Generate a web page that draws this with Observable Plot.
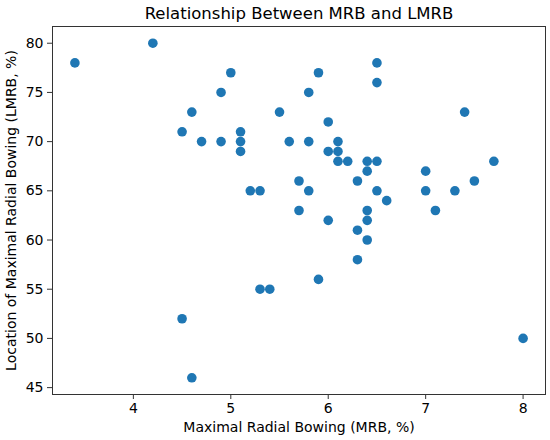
<!DOCTYPE html>
<html>
<head>
<meta charset="utf-8">
<script src="https://cdn.jsdelivr.net/npm/d3@7"></script>
<script src="https://cdn.jsdelivr.net/npm/@observablehq/plot@0.6"></script>
<style>
  html, body { margin: 0; padding: 0; background: #fff; }
  #chart { width: 550px; height: 440px; }
</style>
</head>
<body>
<div id="chart"></div>
<script>
const title = "Relationship Between MRB and LMRB";
const xLabel = "Maximal Radial Bowing (MRB, %)";
const yLabel = "Location of Maximal Radial Bowing (LMRB, %)";

const mrb = [3.4, 4.2, 4.5, 4.6, 4.7, 4.9, 4.9, 5.0, 5.1, 5.1, 5.1, 5.2, 5.3, 5.5, 5.6, 5.7, 5.7, 5.8, 5.8, 5.8,
             5.9, 6.0, 6.0, 6.0, 6.1, 6.1, 6.1, 6.2, 6.3, 6.4, 6.4, 6.5, 6.5, 6.5, 6.5, 6.6, 6.3, 6.3, 6.4, 6.4,
             6.4, 5.9, 5.3, 5.4, 4.5, 4.6, 7.0, 7.0, 7.1, 7.3, 7.4, 7.5, 7.7, 8.0];
const lmrb = [78, 80, 71, 73, 70, 75, 70, 77, 71, 70, 69, 65, 65, 73, 70, 66, 63, 75, 70, 65,
              77, 72, 69, 62, 70, 69, 68, 68, 66, 68, 67, 68, 78, 76, 65, 64, 61, 58, 63, 62,
              60, 56, 55, 55, 52, 46, 67, 65, 63, 65, 73, 66, 68, 50];

const xTicks = [4, 5, 6, 7, 8];
const yTicks = [45, 50, 55, 60, 65, 70, 75, 80];

const data = mrb.map((x, i) => ({x, y: lmrb[i]}));

const chart = Plot.plot({
  width: 550,
  height: 440,
  marginLeft: 52,
  marginRight: 5,
  marginTop: 26,
  marginBottom: 46,
  style: {fontFamily: "DejaVu Sans", fontSize: "14px", color: "#000", background: "#fff"},
  x: {domain: [3.17, 8.23]},
  y: {domain: [44.3, 81.7]},
  marks: [
    Plot.frame({stroke: "#333", strokeWidth: 1}),
    Plot.axisX(xTicks, {tickSize: 5, tickPadding: 4, label: null, fontSize: 14, stroke: "#333"}),
    Plot.axisY(yTicks, {tickSize: 5, tickPadding: 4, label: null, fontSize: 14, stroke: "#333"}),
    Plot.dot(data, {x: "x", y: "y", r: 4.8, fill: "#1f77b4", stroke: "none"}),
    Plot.text([title], {frameAnchor: "top", dy: -13, textAnchor: "middle", lineAnchor: "middle", fontSize: 16.5, fill: "#000"}),
    Plot.text([xLabel], {frameAnchor: "bottom", dy: 33, textAnchor: "middle", lineAnchor: "middle", fontSize: 14, fill: "#000"}),
    Plot.text([yLabel], {frameAnchor: "left", dx: -41, rotate: -90, textAnchor: "middle", lineAnchor: "middle", fontSize: 14, fill: "#000"})
  ]
});
document.getElementById("chart").append(chart);
</script>
</body>
</html>
